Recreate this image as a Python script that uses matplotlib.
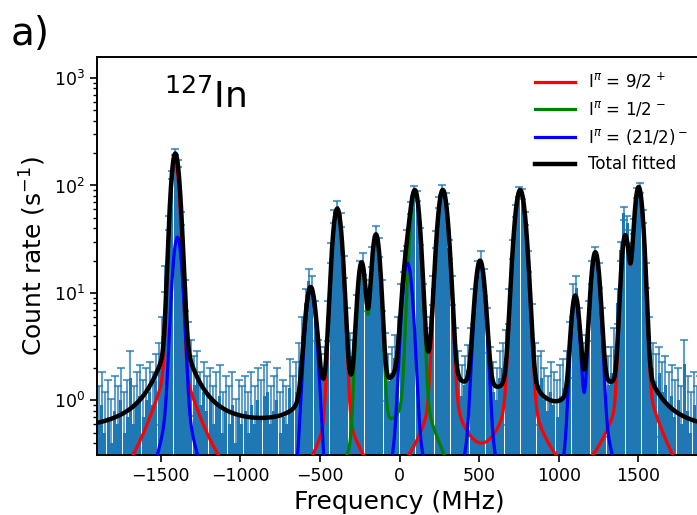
import numpy as np
import matplotlib
matplotlib.use("Agg")
import matplotlib.pyplot as plt

# measured count rate, 20 MHz bins (bin centres -1890 ... 1890)
freq = np.arange(-1890, 1891, 20)
rate = [
    0.6, 0.9, 0.5, 0.7, 0.4, 0.8, 0.6, 1.0, 0.5, 0.7,        # -1890
    1.6, 0.6, 0.9, 1.1, 0.7, 1.0, 1.2, 0.9, 1.5, 2.0,        # -1690
    4.0, 14, 45, 125, 205, 160, 50, 10, 3.5, 2.2,            # -1490
    1.4, 1.6, 0.9, 1.2, 0.8, 1.0, 0.6, 0.9, 1.1, 0.5,        # -1290
    0.8, 0.6, 0.9, 0.4, 0.7, 0.6, 0.8, 0.5, 0.9, 0.6,        # -1090
    1.0, 0.7, 1.1, 1.2, 0.6, 0.8, 1.0, 0.5, 0.7, 0.6,        # -890
    1.3, 0.8, 1.2, 2.0, 4.0, 8.0, 13, 11, 6.0, 2.2,          # -690
    1.5, 1.8, 6.0, 24, 52, 64, 48, 18, 5.0, 2.6,             # -490
    2.2, 7.0, 16, 19, 10, 8.0, 22, 36, 27, 10,               # -290
    2.6, 1.5, 1.8, 2.5, 4.0, 9.0, 20, 33, 62, 90,            # -90
    80, 34, 9.0, 3.0, 4.0, 11, 32, 70, 92, 76,               # 110
    26, 11, 3.0, 1.6, 1.1, 1.4, 1.9, 3.0, 8.0, 16,           # 310
    20, 13, 5.0, 1.8, 1.2, 1.0, 1.6, 2.0, 2.8, 8.0,          # 510
    26, 58, 88, 84, 50, 20, 5.5, 2.0, 1.4, 1.6,              # 710
    1.0, 0.8, 1.2, 0.9, 0.7, 1.1, 1.3, 1.6, 3.5, 9.0,        # 910
    11, 5.0, 2.0, 2.5, 6.0, 16, 22, 15, 5.0, 1.8,            # 1110
    1.4, 1.8, 3.0, 8.0, 25, 55, 45, 24, 42, 85,              # 1310
    95, 52, 15, 4.0, 2.0, 1.5, 1.8, 1.2, 1.4, 0.9,           # 1510
    1.1, 0.7, 1.0, 0.6, 2.2, 0.8, 0.5, 0.9, 0.6, 0.8,        # 1710
]
rate = np.array(rate)
err = np.sqrt(rate)

# fitted peaks: centre (MHz), height (s^-1), gaussian HWHM (MHz)
red_c = [-1410, -391, 272, 758, 1418, 1502]
red_h = [170, 60, 90, 90, 33, 96]
red_w = [26, 29, 32, 34, 24, 27]

green_c = [-238, -148, 98]
green_h = [18, 34, 86]
green_w = [25, 26, 29]

blue_c = [-1395, -558, 50, 506, 1104, 1230]
blue_h = [33, 10.5, 19, 19, 8.5, 23]
blue_w = [28, 32, 30, 30, 25, 27]

background = 0.48


def profile(x, centres, heights, widths, eta, wl):
    y = np.zeros_like(x)
    for c, h, w in zip(centres, heights, widths):
        d = x - c
        y += h * ((1 - eta) * np.exp(-np.log(2) * (d / w) ** 2) + eta / (1 + (d / wl) ** 2))
    return y


xf = np.linspace(-1900, 1900, 3000)
red = profile(xf, red_c, red_h, red_w, 0.014, 100)
green = profile(xf, green_c, green_h, green_w, 0.014, 100)
blue = profile(xf, blue_c, blue_h, blue_w, 0.05, 60)
total = background + red + green + blue

fig = plt.figure(figsize=(6.97, 5.15), dpi=100)
ax = fig.add_axes([97 / 697, 1 - 455 / 515, (702 - 97) / 697, (455 - 57) / 515])
ax.set_yscale("log")

ax.bar(freq, rate, width=19, color="#1f77b4", zorder=1)
ax.errorbar(freq, rate, yerr=err, fmt="none", ecolor="#1f77b4", alpha=0.7,
            elinewidth=1.5, capsize=3, capthick=1.5, zorder=2)

ax.plot(xf, red, color="red", lw=2.3, label=r"I$^{\pi}$ = 9/2$^{\,+}$", zorder=3)
ax.plot(xf, green, color="green", lw=2.3, label=r"I$^{\pi}$ = 1/2$^{\,-}$", zorder=3)
ax.plot(xf, blue, color="blue", lw=2.3, label=r"I$^{\pi}$ = (21/2)$^-$", zorder=3)
ax.plot(xf, total, color="black", lw=3.2, label="Total fitted", zorder=4)

ax.set_xlim(-1900, 1900)
ax.set_ylim(0.31, 1570)
ax.set_xticks([-1500, -1000, -500, 0, 500, 1000, 1500])
ax.set_xlabel("Frequency (MHz)", fontsize=18)
ax.set_ylabel(r"Count rate (s$^{-1}$)", fontsize=18)
ax.tick_params(axis="both", which="major", labelsize=12.5, length=5, width=1.2)
ax.tick_params(axis="y", which="minor", length=3, width=1.0)
for s in ax.spines.values():
    s.set_linewidth(1.4)

ax.text(0.11, 0.872, r"$^{127}$In", fontsize=26, transform=ax.transAxes, va="baseline")
fig.text(0.015, 0.913, "a)", fontsize=28, va="baseline")

ax.legend(loc="upper right", fontsize=12, frameon=False, handlelength=2.4,
          labelspacing=0.5, borderaxespad=0.45)

fig.savefig("out.png", dpi=100)
